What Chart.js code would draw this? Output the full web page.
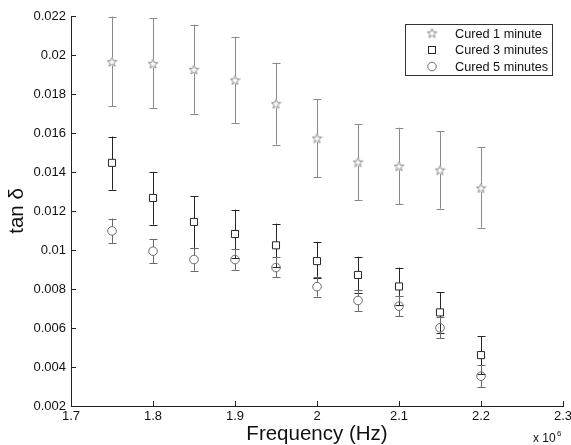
<!DOCTYPE html>
<html>
<head>
<meta charset="utf-8">
<script src="https://cdn.jsdelivr.net/npm/chart.js@4.4.1/dist/chart.umd.min.js"></script>
<style>
html,body{margin:0;padding:0;background:#fff;}
canvas{display:block;}
</style>
</head>
<body>
<canvas id="c" width="571" height="445"></canvas>
<script>
// ---- data (frequency in units of 10^6 Hz) ----
const freqs = [1.75, 1.8, 1.85, 1.9, 1.95, 2.0, 2.05, 2.1, 2.15, 2.2];
const cured1   = [0.01966, 0.01956, 0.01926, 0.01872, 0.01750, 0.01574, 0.01451, 0.01430, 0.01410, 0.01318];
const cured1Hi = [0.02197, 0.02188, 0.02156, 0.02094, 0.01961, 0.01772, 0.01645, 0.01627, 0.01610, 0.01526];
const cured1Lo = [0.01736, 0.01726, 0.01698, 0.01652, 0.01540, 0.01374, 0.01255, 0.01234, 0.01212, 0.01115];
const cured3   = [0.01447, 0.01267, 0.01144, 0.01082, 0.01024, 0.00943, 0.00872, 0.00813, 0.00680, 0.00461];
const cured3Hi = [0.01582, 0.01401, 0.01277, 0.01207, 0.01135, 0.01042, 0.00966, 0.00910, 0.00784, 0.00559];
const cured3Lo = [0.01309, 0.01130, 0.01011, 0.00958, 0.00913, 0.00854, 0.00778, 0.00716, 0.00576, 0.00362];
const cured5   = [0.01098, 0.00994, 0.00951, 0.00951, 0.00910, 0.00812, 0.00741, 0.00712, 0.00601, 0.00353];
const cured5Hi = [0.01161, 0.01055, 0.01011, 0.01004, 0.00963, 0.00864, 0.00794, 0.00766, 0.00656, 0.00410];
const cured5Lo = [0.01035, 0.00933, 0.00894, 0.00898, 0.00861, 0.00761, 0.00688, 0.00659, 0.00547, 0.00297];
const seriesNames = ['Cured 1 minute', 'Cured 3 minutes', 'Cured 5 minutes'];
const xTicks = [1.7, 1.8, 1.9, 2.0, 2.1, 2.2, 2.3];
const xTickLabels = ['1.7', '1.8', '1.9', '2', '2.1', '2.2', '2.3'];
const yTicks = [0.002, 0.004, 0.006, 0.008, 0.010, 0.012, 0.014, 0.016, 0.018, 0.020, 0.022];
const yTickLabels = ['0.002', '0.004', '0.006', '0.008', '0.01', '0.012', '0.014', '0.016', '0.018', '0.02', '0.022'];
const xTitle = 'Frequency (Hz)';
const yTitle = 'tan δ';

const FONT = '"Liberation Sans", Arial, Helvetica, sans-serif';
const colStar = '#8a8a8a', colSq = '#262626', colCirc = '#6a6a6a';

// five-pointed star marker
function makeStar(size, color) {
  const c = document.createElement('canvas');
  c.width = size; c.height = size;
  const g = c.getContext('2d');
  const cx = size / 2, cy = size / 2 + 0.5, R = size / 2 - 0.5, r = R * 0.42;
  g.beginPath();
  for (let i = 0; i < 10; i++) {
    const a = -Math.PI / 2 + i * Math.PI / 5;
    const rr = i % 2 === 0 ? R : r;
    const px = cx + rr * Math.cos(a), py = cy + rr * Math.sin(a);
    if (i === 0) g.moveTo(px, py); else g.lineTo(px, py);
  }
  g.closePath();
  g.strokeStyle = color; g.lineWidth = 1; g.stroke();
  return c;
}
const starImg = makeStar(11, colStar);

function pts(ys) { return freqs.map((x, i) => ({ x: x, y: ys[i] })); }

const errSets = [
  { hi: cured1Hi, lo: cured1Lo, color: colStar, gap: 4 },
  { hi: cured3Hi, lo: cured3Lo, color: colSq, gap: 3.6 },
  { hi: cured5Hi, lo: cured5Lo, color: colCirc, gap: 4.3 }
];

const customPlugin = {
  id: 'custom',
  beforeDatasetsDraw(chart) {
    const ctx = chart.ctx, xs = chart.scales.x, ys = chart.scales.y;
    ctx.save();
    ctx.lineWidth = 1;
    errSets.forEach((e, di) => {
      const vals = chart.data.datasets[di].data;
      ctx.strokeStyle = e.color;
      vals.forEach((p, i) => {
        const px = Math.round(xs.getPixelForValue(p.x)) + 0.5;
        const pc = ys.getPixelForValue(p.y);
        const ph = ys.getPixelForValue(e.hi[i]);
        const pl = ys.getPixelForValue(e.lo[i]);
        ctx.beginPath();
        ctx.moveTo(px, ph); ctx.lineTo(px, pc - e.gap);
        ctx.moveTo(px, pc + e.gap); ctx.lineTo(px, pl);
        ctx.moveTo(px - 4, Math.round(ph) + 0.5); ctx.lineTo(px + 4, Math.round(ph) + 0.5);
        ctx.moveTo(px - 4, Math.round(pl) + 0.5); ctx.lineTo(px + 4, Math.round(pl) + 0.5);
        ctx.stroke();
      });
    });
    ctx.restore();
  },
  afterDraw(chart) {
    const ctx = chart.ctx, xs = chart.scales.x, ys = chart.scales.y, a = chart.chartArea;
    ctx.save();
    // inward tick marks
    ctx.strokeStyle = '#222'; ctx.lineWidth = 1;
    ctx.beginPath();
    xTicks.forEach(v => {
      const px = Math.round(xs.getPixelForValue(v)) + 0.5;
      ctx.moveTo(px, a.bottom); ctx.lineTo(px, a.bottom - 5);
    });
    yTicks.forEach(v => {
      const py = Math.round(ys.getPixelForValue(v)) + 0.5;
      ctx.moveTo(a.left, py); ctx.lineTo(a.left + 5, py);
    });
    ctx.stroke();
    // titles
    ctx.fillStyle = '#111';
    ctx.font = '20.5px ' + FONT;
    ctx.textAlign = 'center'; ctx.textBaseline = 'middle';
    ctx.fillText(xTitle, (a.left + a.right) / 2, 434);
    ctx.save();
    ctx.translate(17, (a.top + a.bottom) / 2);
    ctx.rotate(-Math.PI / 2);
    ctx.fillText(yTitle, 0, 0);
    ctx.restore();
    // x 10^6 multiplier
    ctx.font = '12px ' + FONT;
    ctx.textAlign = 'left'; ctx.textBaseline = 'alphabetic';
    ctx.fillText('x 10', 533, 442);
    ctx.font = '8px ' + FONT;
    ctx.fillText('6', 557, 436);
    // legend
    const lx = 405.5, ly = 24.5, lw = 147, lh = 51;
    ctx.fillStyle = '#fff';
    ctx.fillRect(lx, ly, lw, lh);
    ctx.strokeStyle = '#333'; ctx.lineWidth = 1;
    ctx.strokeRect(lx, ly, lw, lh);
    const rows = [33.5, 50, 66.5];
    ctx.font = '12.7px ' + FONT;
    ctx.textBaseline = 'middle'; ctx.textAlign = 'left';
    rows.forEach((ry, i) => {
      const mx = 432;
      if (i === 0) {
        ctx.drawImage(starImg, mx - 5.5, ry - 6);
      } else if (i === 1) {
        ctx.strokeStyle = colSq;
        ctx.strokeRect(mx - 3.5, Math.round(ry) - 3.5, 7, 7);
      } else {
        ctx.strokeStyle = colCirc;
        ctx.beginPath(); ctx.arc(mx, ry, 4.3, 0, Math.PI * 2); ctx.stroke();
      }
      ctx.fillStyle = '#111';
      ctx.fillText(seriesNames[i], 455, ry + 0.5);
    });
    ctx.restore();
  }
};

new Chart(document.getElementById('c'), {
  type: 'scatter',
  data: {
    datasets: [
      { label: seriesNames[0], data: pts(cured1), pointStyle: starImg, borderColor: colStar, backgroundColor: 'rgba(0,0,0,0)', pointRadius: 5 },
      { label: seriesNames[1], data: pts(cured3), pointStyle: 'rect', borderColor: colSq, backgroundColor: 'rgba(0,0,0,0)', pointRadius: 5, pointBorderWidth: 1 },
      { label: seriesNames[2], data: pts(cured5), pointStyle: 'circle', borderColor: colCirc, backgroundColor: 'rgba(0,0,0,0)', pointRadius: 4.3, pointBorderWidth: 1 }
    ]
  },
  options: {
    responsive: false,
    animation: false,
    devicePixelRatio: 1,
    layout: { padding: { top: 16, right: 8, left: 0, bottom: 0 } },
    plugins: { legend: { display: false }, tooltip: { enabled: false } },
    elements: { point: { borderWidth: 1, hoverRadius: 5 } },
    scales: {
      x: {
        type: 'linear', min: 1.7, max: 2.3,
        grid: { display: false, drawTicks: false },
        border: { display: true, color: '#222', width: 1 },
        afterBuildTicks: s => { s.ticks = xTicks.map(v => ({ value: v })); },
        afterFit: s => { s.height = 39; s.paddingLeft = 0; s.paddingRight = 0; },
        ticks: {
          color: '#111', padding: 3, maxRotation: 0, autoSkip: false,
          font: { family: FONT, size: 13 },
          callback: (v, i) => xTickLabels[i]
        }
      },
      y: {
        type: 'linear', min: 0.002, max: 0.022,
        grid: { display: false, drawTicks: false },
        border: { display: true, color: '#222', width: 1 },
        afterBuildTicks: s => { s.ticks = yTicks.map(v => ({ value: v })); },
        afterFit: s => { s.width = 71; s.paddingTop = 0; s.paddingBottom = 0; },
        ticks: {
          color: '#111', padding: 5, autoSkip: false,
          font: { family: FONT, size: 13 },
          callback: (v, i) => yTickLabels[i]
        }
      }
    }
  },
  plugins: [customPlugin]
});
</script>
</body>
</html>
